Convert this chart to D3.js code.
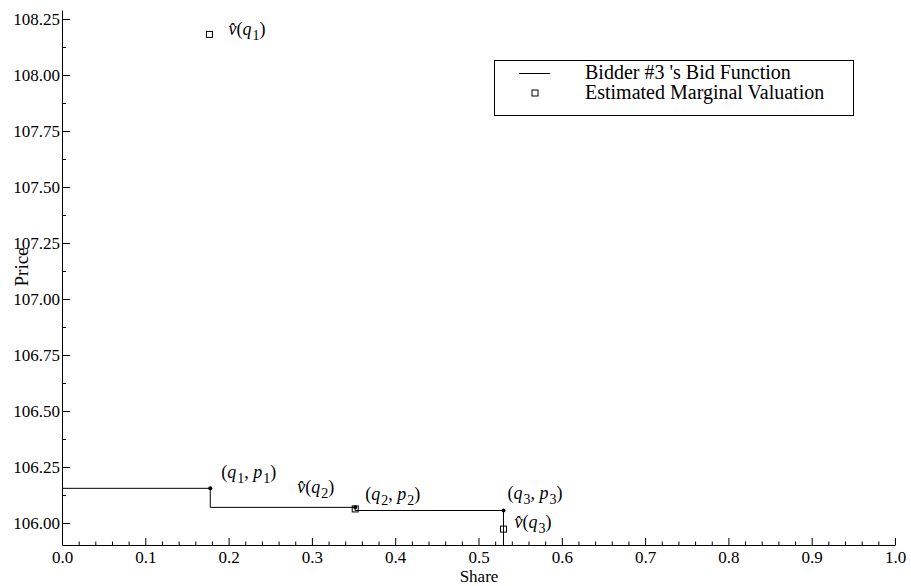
<!DOCTYPE html>
<html>
<head>
<meta charset="utf-8">
<script src="https://cdn.jsdelivr.net/npm/d3@7"></script>
<style>
  html, body { margin: 0; padding: 0; background: #fff; }
  svg { display: block; font-family: "Liberation Serif", "Times New Roman", serif; }
  .axis text { font-size: 17px; fill: #000; font-family: "Liberation Serif", "Times New Roman", serif; }
  .axis line, .axis path { stroke: #000; }
</style>
</head>
<body>
<svg id="chart" width="911" height="586"></svg>
<script>
// Bid function step points: share quantities and bid prices
const shares = [0.178, 0.352, 0.530];          // q1, q2, q3
const prices = [106.155, 106.070, 106.056];    // p1, p2, p3
// Estimated marginal valuations at each quantity
const valShares = [0.177, 0.352, 0.530];
const valuations = [108.181, 106.063, 105.973];
// Axis tick values
const xTicks = [0.0, 0.1, 0.2, 0.3, 0.4, 0.5, 0.6, 0.7, 0.8, 0.9, 1.0];
const yTicks = [106.00, 106.25, 106.50, 106.75, 107.00, 107.25, 107.50, 107.75, 108.00, 108.25];
const legendLabels = ["Bidder #3 's Bid Function", "Estimated Marginal Valuation"];

const svg = d3.select("#chart");
const plotLeft = 62, plotRight = 895, plotTop = 10, plotBottom = 545;

const x = d3.scaleLinear().domain([0, 1]).range([plotLeft, plotRight]);
const y = d3.scaleLinear().domain([105.902, 108.29]).range([plotBottom, plotTop]);

// minor ticks
const xMinor = d3.range(0, 1.0001, 0.02).map(v => +v.toFixed(2)).filter(v => !xTicks.some(t => Math.abs(t - v) < 1e-9));
const yMinor = d3.range(105.875, 108.3, 0.125).filter(v => v > 105.902 && !yTicks.some(t => Math.abs(t - v) < 1e-9));

svg.append("g").attr("class", "axis")
  .attr("transform", `translate(0,${plotBottom})`)
  .call(d3.axisBottom(x).tickValues(xMinor).tickSize(-3.5).tickFormat(""))
  .call(g => g.select(".domain").remove());
svg.append("g").attr("class", "axis")
  .attr("transform", `translate(0,${plotBottom})`)
  .call(d3.axisBottom(x).tickValues(xTicks).tickSize(-7).tickSizeOuter(0).tickPadding(6).tickFormat(d3.format(".1f")));

svg.append("g").attr("class", "axis")
  .attr("transform", `translate(${plotLeft},0)`)
  .call(d3.axisLeft(y).tickValues(yMinor).tickSize(-4).tickFormat(""))
  .call(g => g.select(".domain").remove());
svg.append("g").attr("class", "axis")
  .attr("transform", `translate(${plotLeft},0)`)
  .call(d3.axisLeft(y).tickValues(yTicks).tickSize(-8).tickSizeOuter(0).tickPadding(2).tickFormat(d3.format(".2f")));

// axis titles
svg.append("text").attr("x", 479).attr("y", 581.5).attr("text-anchor", "middle")
  .attr("font-size", 17).text("Share");
svg.append("text").attr("transform", "translate(28,267) rotate(-90)").attr("text-anchor", "middle")
  .attr("font-size", 19).text("Price");

// step bid function: price p_i holds from q_{i-1} to q_i, then drops
const stepPts = [[0, prices[0]]];
shares.forEach((q, i) => stepPts.push([q, i + 1 < prices.length ? prices[i + 1] : y.domain()[0]]));
const line = d3.line().x(d => x(d[0])).y(d => y(d[1])).curve(d3.curveStepAfter);
svg.append("path").datum(stepPts).attr("d", line)
  .attr("fill", "none").attr("stroke", "#000").attr("stroke-width", 1);

// bid points
svg.selectAll("circle.bid").data(shares).join("circle").attr("class", "bid")
  .attr("cx", d => x(d)).attr("cy", (d, i) => y(prices[i])).attr("r", 2).attr("fill", "#000");

// marginal valuation squares
svg.selectAll("rect.val").data(valShares).join("rect").attr("class", "val")
  .attr("x", d => x(d) - 3).attr("y", (d, i) => y(valuations[i]) - 3)
  .attr("width", 6).attr("height", 6)
  .attr("fill", "none").attr("stroke", "#000").attr("stroke-width", 1);

// math labels
function mathLabel(px, py, parts) {
  const t = svg.append("text").attr("x", px).attr("y", py).attr("font-size", 18);
  parts.forEach(p => {
    const s = t.append("tspan").text(p.t);
    if (p.i) s.attr("font-style", "italic");
    if (p.sub) s.attr("font-size", 14).attr("dy", 5).attr("dx", 1);
    if (p.up) s.attr("dy", -5);
  });
  return t;
}
const pairLabel = k => [
  { t: "(" }, { t: "q", i: true }, { t: String(k), sub: true }, { t: ", ", up: true },
  { t: "p", i: true }, { t: String(k), sub: true }, { t: ")", up: true }
];
const valLabel = k => [
  { t: "v\u0302", i: true }, { t: "(" }, { t: "q", i: true }, { t: String(k), sub: true }, { t: ")", up: true }
];

mathLabel(x(shares[0]) + 11, y(prices[0]) - 10, pairLabel(1));
mathLabel(x(shares[1]) + 10, y(prices[1]) - 7, pairLabel(2));
mathLabel(x(shares[2]) + 4, y(prices[2]) - 11, pairLabel(3));

mathLabel(x(valShares[0]) + 19, y(valuations[0]) + 1, valLabel(1));
mathLabel(x(valShares[1]) - 58, y(valuations[1]) - 16, valLabel(2));
mathLabel(x(valShares[2]) + 11, y(valuations[2]) - 1, valLabel(3));

// legend
const lg = svg.append("g");
lg.append("rect").attr("x", 494.5).attr("y", 60.5).attr("width", 359).attr("height", 55)
  .attr("fill", "#fff").attr("stroke", "#000").attr("stroke-width", 1);
lg.append("line").attr("x1", 519).attr("x2", 550).attr("y1", 73.5).attr("y2", 73.5)
  .attr("stroke", "#000").attr("stroke-width", 1);
lg.append("rect").attr("x", 532).attr("y", 90).attr("width", 6).attr("height", 6)
  .attr("fill", "none").attr("stroke", "#000");
lg.selectAll("text").data(legendLabels).join("text")
  .attr("x", 585).attr("y", (d, i) => 79 + i * 20).attr("font-size", 20).text(d => d);
</script>
</body>
</html>
